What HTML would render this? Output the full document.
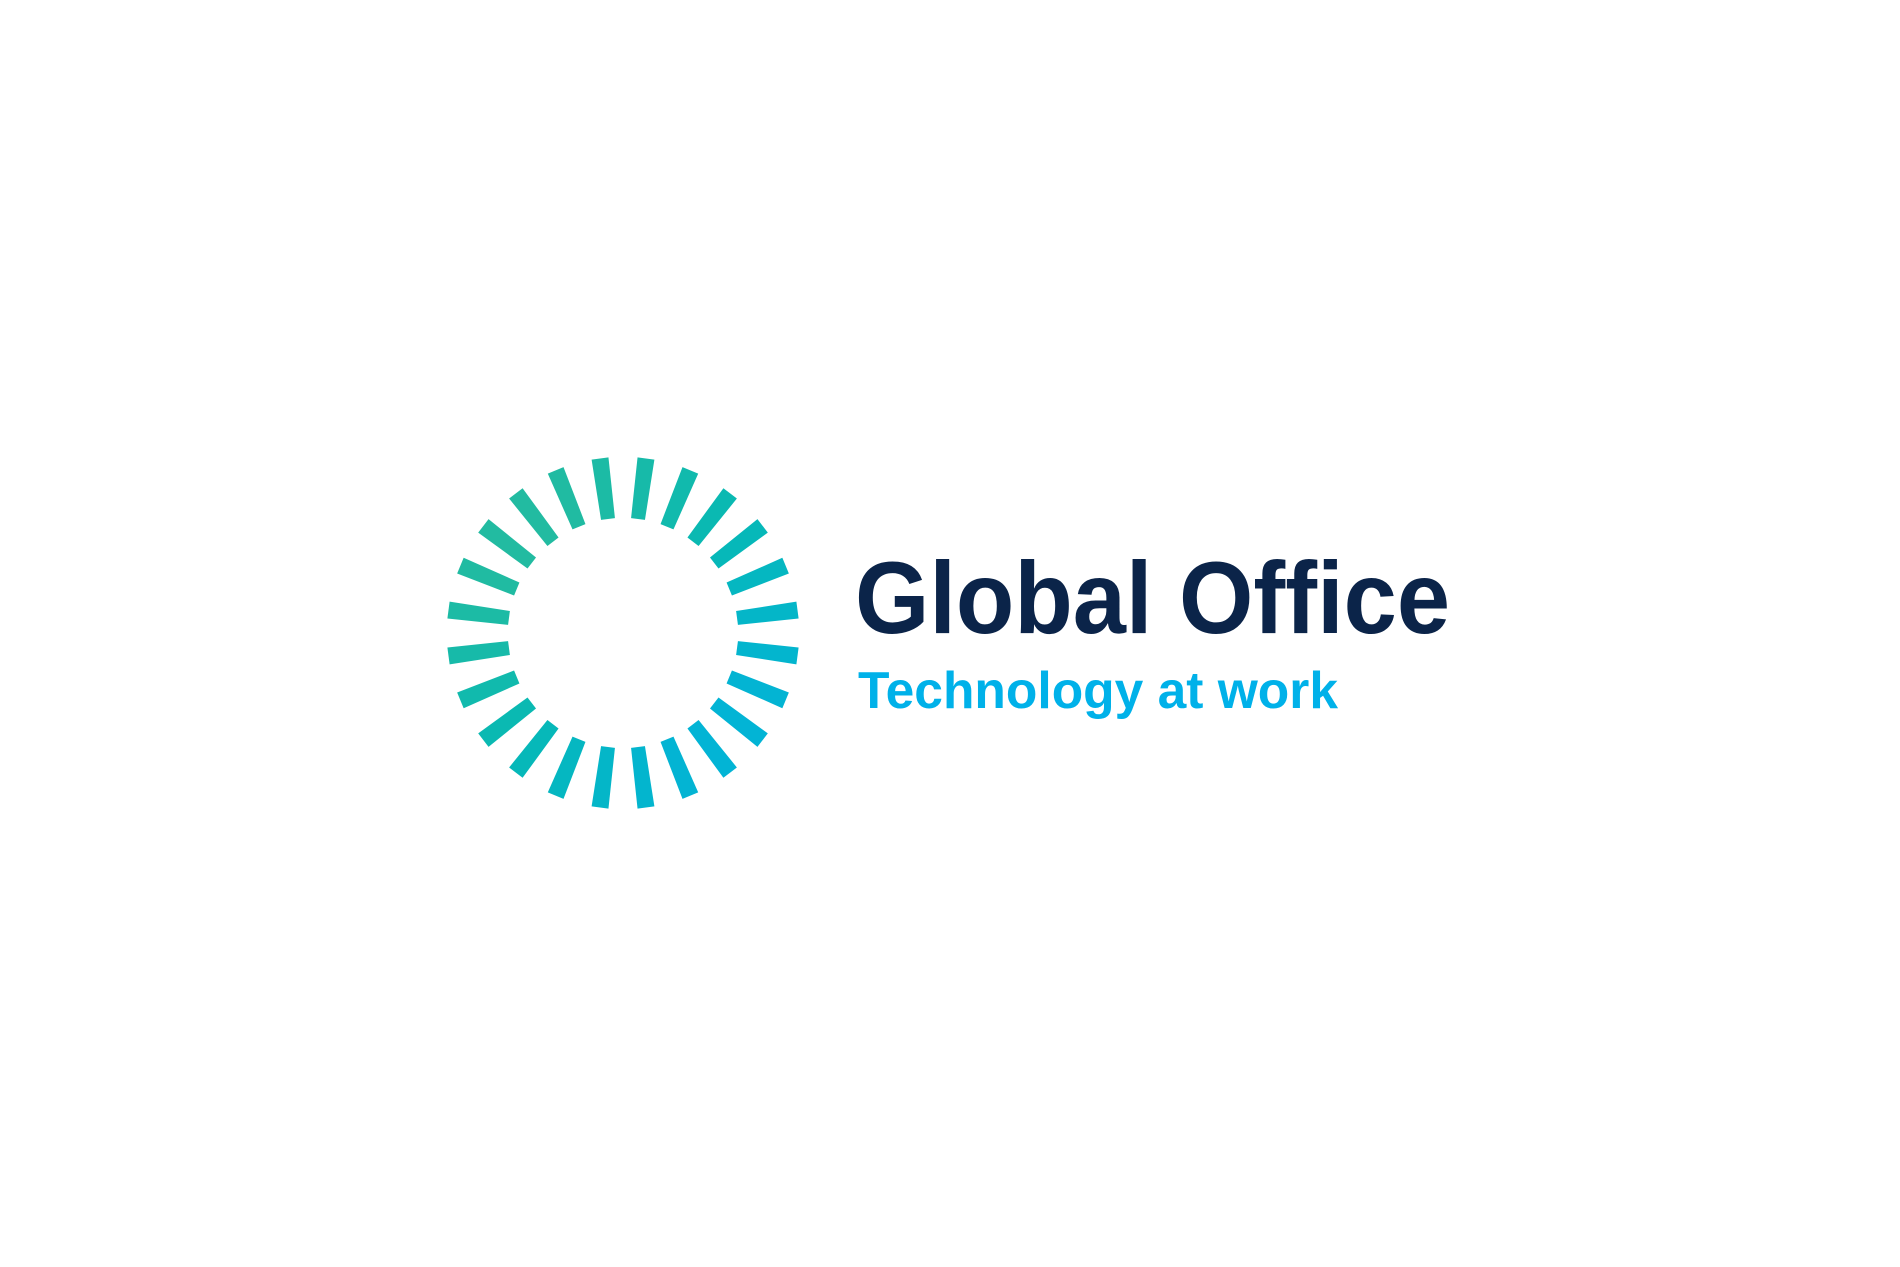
<!DOCTYPE html>
<html><head><meta charset="utf-8"><style>
html,body{margin:0;padding:0;background:#fff;width:1900px;height:1267px;overflow:hidden}
</style></head><body>
<svg width="1900" height="1267" viewBox="0 0 1900 1267">
<defs>
<linearGradient id="g" x1="0" y1="0" x2="1" y2="1">
<stop offset="0" stop-color="#35bd93"/>
<stop offset="0.45" stop-color="#06b9b5"/>
<stop offset="1" stop-color="#00b0ea"/>
</linearGradient>
</defs>
<g id="rays"></g>
<text x="855" y="633" textLength="595" lengthAdjust="spacingAndGlyphs" font-family="Liberation Sans, sans-serif" font-weight="bold" font-size="102" fill="#0b2449">Global Office</text>
<text x="858" y="708" textLength="480" lengthAdjust="spacingAndGlyphs" font-family="Liberation Sans, sans-serif" font-weight="bold" font-size="52" fill="#00b1e9">Technology at work</text>
</svg>
<script>
const cx=623, cy=633, r1=115, r2=176;
const g=document.getElementById('rays');
for(let k=0;k<24;k++){
  const a=(7.5+15*k)*Math.PI/180;
  const dx=Math.sin(a), dy=-Math.cos(a);
  const px=Math.cos(a), py=Math.sin(a);
  const w1=7, w2=8.5;
  const pts=[
    [cx+dx*r1+px*w1, cy+dy*r1+py*w1],
    [cx+dx*r2+px*w2, cy+dy*r2+py*w2],
    [cx+dx*r2-px*w2, cy+dy*r2-py*w2],
    [cx+dx*r1-px*w1, cy+dy*r1-py*w1]];
  const p=document.createElementNS('http://www.w3.org/2000/svg','polygon');
  p.setAttribute('points',pts.map(q=>q.join(',')).join(' '));
  // color by position: green upper-left, teal top-right, blue lower-right
  const t=((cx+dx*150)-(cx-176)+(cy+dy*150)-(cy-176))/(704);
  const c1=[53,189,147],c2=[6,185,181],c3=[0,176,234];
  let c;
  if(t<0.5){const u=t/0.5;c=c1.map((v,i)=>Math.round(v+(c2[i]-v)*u));}
  else{const u=(t-0.5)/0.5;c=c2.map((v,i)=>Math.round(v+(c3[i]-v)*u));}
  p.setAttribute('fill','rgb('+c.join(',')+')');
  
  
  g.appendChild(p);
}
</script>
</body></html>
